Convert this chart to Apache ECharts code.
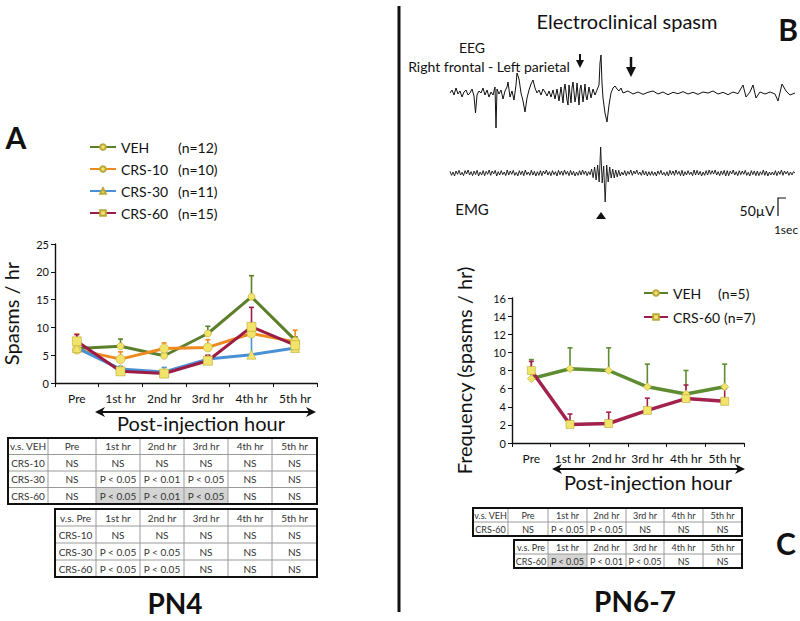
<!DOCTYPE html>
<html><head><meta charset="utf-8">
<script src="https://cdn.jsdelivr.net/npm/echarts@6/dist/echarts.min.js"></script>
<style>html,body{margin:0;padding:0;background:#fff}#c{width:800px;height:621px}</style>
</head><body><div id="c"></div>
<script>
// ---------- DATA ----------
const hours = ['Pre','1st hr','2nd hr','3rd hr','4th hr','5th hr'];
// Panel A (PN4)
const namesA = ['VEH','CRS-10','CRS-30','CRS-60'];
const nA = ['(n=12)','(n=10)','(n=11)','(n=15)'];
const vehA = [6.2,6.6,4.9,8.9,15.5,7.7];
const vehAErr = [0.8,1.3,0.5,1.3,3.8,0.6];
const crs10A = [6.0,4.3,6.2,6.4,8.9,7.4];
const crs10AErr = [2.8,1.3,1.0,1.4,0.4,2.1];
const crs30A = [6.3,2.5,2.0,4.3,5.1,6.3];
const crs30AErr = [0.5,0.5,0.8,0.6,4.2,0.4];
const crs60A = [7.5,2.1,1.7,4.0,10.1,6.8];
const crs60AErr = [1.2,0.6,0.6,1.0,3.5,1.3];
// Panel C (PN6-7)
const namesB = ['VEH','CRS-60'];
const nB = ['(n=5)','(n=7)'];
const vehB = [7.1,8.2,8.0,6.2,5.4,6.2];
const vehBErr = [2.1,2.3,2.5,2.5,2.6,2.5];
const crs60B = [8.0,2.05,2.15,3.6,4.9,4.6];
const crs60BErr = [1.0,1.15,1.25,1.35,1.5,1.4];
// Panel B traces: EEG [sec, µV], EMG samples (µV)
const eeg = [[0,0],[0.2,9],[0.4,-6],[0.6,15],[0.8,-3],[1.0,6],[1.2,-12],[1.4,3],[1.6,9],[1.8,-6],[2.0,0],[2.2,12],[2.4,-9],[2.55,-60],[2.7,-6],[2.9,6],[3.1,0],[3.3,15],[3.5,-6],[3.7,9],[3.9,-12],[4.1,3],[4.3,-6],[4.5,18],[4.6,-105],[4.7,12],[4.9,-3],[5.1,9],[5.3,-18],[5.5,6],[5.7,18],[5.8,33],[6.0,-12],[6.2,6],[6.4,-21],[6.6,24],[6.7,60],[6.9,42],[7.1,0],[7.3,-24],[7.5,-57],[7.7,-15],[7.9,9],[8.1,27],[8.3,39],[8.5,15],[8.7,0],[8.9,9],[9.1,-6],[9.3,12],[9.5,3],[9.7,-9],[9.9,6],[10.1,-12],[10.3,9],[10.5,-18],[10.7,12],[10.9,-24],[11.1,18],[11.3,-30],[11.4,9],[11.5,27],[11.7,-21],[11.8,-36],[11.9,24],[12.1,-30],[12.2,15],[12.3,33],[12.5,-27],[12.6,-9],[12.7,30],[12.9,-36],[13.0,12],[13.1,24],[13.3,-27],[13.5,27],[13.6,-9],[13.7,-21],[13.9,18],[14.1,-15],[14.3,12],[14.5,-6],[14.7,9],[14.9,24],[15.0,90],[15.1,114],[15.2,30],[15.3,-15],[15.5,-60],[15.7,-87],[15.9,-36],[16.1,0],[16.3,15],[16.5,21],[16.7,12],[16.9,6],[17.1,15],[17.3,0],[17.8,6],[18.3,-3],[18.8,3],[19.3,-4],[19.8,2],[20.3,6],[20.8,-3],[21.3,3],[21.8,-5],[22.3,2],[22.8,-2],[23.3,4],[23.8,-3],[24.3,2],[24.8,-4],[25.3,3],[25.8,0],[26.3,6],[26.8,-3],[27.3,2],[27.8,-5],[28.3,3],[28.8,-2],[29.3,24],[29.6,-12],[30.0,3],[30.3,24],[30.6,-15],[31.0,3],[31.5,-3],[32.0,3],[32.5,-3],[32.8,-24],[33.2,27],[33.6,6],[34.0,-6],[34.5,0]];
const emg = [5,-7,3,-9,6,-4,8,-6,2,-8, 7,-3,9,-6,4,-8,6,-5,8,-9, 3,-6,7,-8,5,-4,9,-7,6,-3, 8,-9,4,-6,7,-5,3,-8,9,-6,
  6,-4,8,-7,2,-9,7,-5,6,-8, 9,-5,3,-7,8,-6,5,-9,4,-7, 7,-8,6,-3,9,-6,4,-8,7,-5, 4,-9,8,-5,6,-7,9,-4,5,-8,
  8,-6,5,-9,3,-7,7,-6,9,-4, 6,-8,4,-5,
  12,-14,18,-21,24,-27,78,-30,21,-87,24,-27,18,-15,12,-15,9,-12,8,-9,
  3,-6,7,-8,5,-4,9,-7,6,-3, 9,-5,3,-7,8,-6,5,-9,4,-7, 5,-7,3,-9,6,-4,8,-6,2,-8, 4,-9,8,-5,6,-7,9,-4,5,-8,
  8,-9,4,-6,7,-5,3,-8,9,-6, 8,-6,5,-9,3,-7,7,-6,9,-4, 7,-3,9,-6,4,-8,6,-5,8,-9, 7,-8,6,-3,9,-6,4,-8,7,-5,
  6,-4,8,-7,2,-9,7,-5,6,-8, 6,-8,4,-5,9,-7,6,-9,3,-6, 3,-6,7,-8,5,-4,9,-7,6,-3, 5,-7,3,-6,4,0];
// Tables
const tA1 = [["v.s. VEH","Pre","1st hr","2nd hr","3rd hr","4th hr","5th hr"],
  ["CRS-10","NS","NS","NS","NS","NS","NS"],
  ["CRS-30","NS","P < 0.05","P < 0.01","P < 0.05","NS","NS"],
  ["CRS-60","NS","P < 0.05","P < 0.01","P < 0.05","NS","NS"]];
const tA2 = [["v.s. Pre","1st hr","2nd hr","3rd hr","4th hr","5th hr"],
  ["CRS-10","NS","NS","NS","NS","NS"],
  ["CRS-30","P < 0.05","P < 0.05","NS","NS","NS"],
  ["CRS-60","P < 0.05","P < 0.05","NS","NS","NS"]];
const tC1 = [["v.s. VEH","Pre","1st hr","2nd hr","3rd hr","4th hr","5th hr"],
  ["CRS-60","NS","P < 0.05","P < 0.05","NS","NS","NS"]];
const tC2 = [["v.s. Pre","1st hr","2nd hr","3rd hr","4th hr","5th hr"],
  ["CRS-60","P < 0.05","P < 0.01","P < 0.05","NS","NS"]];

// ---------- STYLE ----------
const F = 'Lato, "DejaVu Sans", sans-serif';
const YEL = '#f2e46a';
const colA = {'VEH':'#5b7f2b','CRS-10':'#ef8a1f','CRS-30':'#4a90d6','CRS-60':'#9b1c45'};
const symA = {'VEH':['circle',7],'CRS-10':['circle',9],'CRS-30':['triangle',9],'CRS-60':['rect',9]};
const colB = {'VEH':'#5e8c31','CRS-60':'#a1224c'};
const symB = {'VEH':['diamond',8],'CRS-60':['rect',8]};

function lineSeries(name, data, color, sym, xi, w){
  return {type:'line', name, data, xAxisIndex:xi, yAxisIndex:xi, z:3,
    symbol:sym[0], symbolSize:sym[1], showSymbol:true,
    lineStyle:{color, width:w}, itemStyle:{color:YEL, borderColor:'#b9a93a', borderWidth:0.6},
    emphasis:{disabled:true}, silent:true, animation:false};
}
function errSeries(means, errs, color, xi){
  return {type:'custom', xAxisIndex:xi, yAxisIndex:xi, z:2, silent:true, animation:false,
    data: means.map((m,i)=>[i, m, m+errs[i]]),
    renderItem:(p, api)=>{
      const a = api.coord([api.value(0), api.value(1)]);
      const b = api.coord([api.value(0), api.value(2)]);
      return {type:'group', children:[
        {type:'line', shape:{x1:a[0],y1:a[1],x2:b[0],y2:b[1]}, style:{stroke:color, lineWidth:1.6}},
        {type:'line', shape:{x1:b[0]-2.5,y1:b[1],x2:b[0]+2.5,y2:b[1]}, style:{stroke:color, lineWidth:1.6}}
      ]};
    }};
}
function catAxis(gi){
  return {type:'category', gridIndex:gi, data:hours, boundaryGap:true,
    axisLine:{lineStyle:{color:'#111', width:1.4}},
    axisTick:{show:true, length:4, interval:0, lineStyle:{color:'#111'}},
    axisLabel:{fontFamily:F, fontSize:12, color:'#111', margin:9, interval:0}};
}
function valAxis(gi, max, interval, name, gap){
  return {type:'value', gridIndex:gi, min:0, max, interval,
    name, nameLocation:'middle', nameGap:gap, nameTextStyle:{fontFamily:F, fontSize:20, color:'#111'},
    axisLine:{show:true, lineStyle:{color:'#111', width:1.4}},
    axisTick:{show:true, length:4, lineStyle:{color:'#111'}},
    splitLine:{show:false},
    axisLabel:{fontFamily:F, fontSize:11, color:'#111', margin:6}};
}

function table(cols, rows, cells, shaded, fs){
  const els = [];
  shaded.forEach(([r,c])=>els.push({type:'rect', shape:{x:cols[c], y:rows[r], width:cols[c+1]-cols[c], height:rows[r+1]-rows[r]}, style:{fill:'#d4d4d4'}}));
  for (let i=1;i<cols.length-1;i++) els.push({type:'line', shape:{x1:cols[i],y1:rows[0],x2:cols[i],y2:rows[rows.length-1]}, style:{stroke:'#9a9a9a', lineWidth:1}});
  for (let j=1;j<rows.length-1;j++) els.push({type:'line', shape:{x1:cols[0],y1:rows[j],x2:cols[cols.length-1],y2:rows[j]}, style:{stroke:'#9a9a9a', lineWidth:1}});
  els.push({type:'rect', shape:{x:cols[0], y:rows[0], width:cols[cols.length-1]-cols[0], height:rows[rows.length-1]-rows[0]}, style:{fill:'none', stroke:'#111', lineWidth:2}});
  cells.forEach((row,r)=>row.forEach((t,c)=>els.push({type:'text', x:(cols[c]+cols[c+1])/2, y:(rows[r]+rows[r+1])/2,
    style:{text:t, fill:'#333', font:fs+'px '+F, textAlign:'center', textVerticalAlign:'middle'}})));
  return els;
}
function txt(x,y,t,font,align){
  return {type:'text', x, y, style:{text:t, fill:'#111', font, textAlign:align||'center', textVerticalAlign:'middle'}};
}
function dblArrow(x1,x2,y){
  return [
    {type:'line', shape:{x1:x1+4,y1:y,x2:x2-4,y2:y}, style:{stroke:'#111', lineWidth:2}},
    {type:'polygon', shape:{points:[[x1,y],[x1+10,y-5],[x1+7,y],[x1+10,y+5]]}, style:{fill:'#111'}},
    {type:'polygon', shape:{points:[[x2,y],[x2-10,y-5],[x2-7,y],[x2-10,y+5]]}, style:{fill:'#111'}}
  ];
}
function downArrow(x,y1,y2,hw,hh,sw){
  return [
    {type:'line', shape:{x1:x,y1:y1,x2:x,y2:y2-hh+1}, style:{stroke:'#111', lineWidth:sw}},
    {type:'polygon', shape:{points:[[x-hw,y2-hh],[x+hw,y2-hh],[x,y2]]}, style:{fill:'#111'}}
  ];
}

const graphics = [].concat(
  [{type:'rect', shape:{x:397.5, y:6, width:3, height:606}, style:{fill:'#111'}}],
  [txt(16,137,'A','bold 30px '+F), txt(788,29,'B','bold 30px '+F), txt(786,543,'C','bold 30px '+F)],
  [txt(175,603,'PN4','bold 28px '+F), txt(635,601,'PN6-7','bold 28px '+F)],
  [txt(201,423,'Post-injection hour','20px '+F), txt(648,482,'Post-injection hour','20px '+F)],
  dblArrow(95,316,412), dblArrow(552,745,469),
  [txt(627,21,'Electroclinical spasm','20px '+F), txt(472,47,'EEG','14px '+F), txt(489,66,'Right frontal - Left parietal','14px '+F),
   txt(472,209,'EMG','15px '+F), txt(757,210,'50µV','14px '+F), txt(786,229,'1sec','12px '+F)],
  downArrow(580,54,68,4,8,2), downArrow(631,57,77,5,10,2.5),
  [{type:'polygon', shape:{points:[[596,219],[606,219],[601,212]]}, style:{fill:'#111'}},
   {type:'polyline', shape:{points:[[778,216],[778,198],[786,198]]}, style:{stroke:'#111', lineWidth:1.2, fill:'none'}}],
  table([8,48,96,140,184,228,272,317],[438,454.5,471,487.5,504], tA1, [[3,2],[3,3],[3,4]], 10),
  table([55,96,140,184,228,272,317],[509,526,543,560,577], tA2, [], 10),
  table([473,508,548,587,626,664,703,742],[508,522,536], tC1, [], 9),
  table([514,548,587,626,664,703,742],[540,554,568], tC2, [[1,1]], 9)
);

const option = {
  backgroundColor:'#fff', animation:false,
  grid:[
    {left:49, top:244, width:268, height:139},
    {left:512, top:298, width:232, height:145},
    {left:450, top:53, width:345, height:80},
    {left:450, top:143, width:345, height:60}
  ],
  xAxis:[catAxis(0), catAxis(1),
    {type:'value', gridIndex:2, min:0, max:34.5, show:false},
    {type:'value', gridIndex:3, min:0, max:emg.length-1, show:false}],
  yAxis:[valAxis(0,25,5,'Spasms / hr',34), valAxis(1,16,2,'Frequency (spasms / hr)',38),
    {type:'value', gridIndex:2, min:-120, max:120, show:false},
    {type:'value', gridIndex:3, min:-90, max:90, show:false}],
  legend:[
    {orient:'vertical', left:84, top:135, itemWidth:26, itemHeight:7, itemGap:8, selectedMode:false,
     data:namesA, formatter:n=>'{a|'+n+'}{b|'+nA[namesA.indexOf(n)]+'}',
     textStyle:{fontFamily:F, fontSize:14, color:'#111', rich:{a:{width:57, fontSize:14, fontFamily:F, lineHeight:14}, b:{fontSize:14, fontFamily:F, lineHeight:14}}}},
    {orient:'vertical', left:638, top:281, itemWidth:24, itemHeight:7, itemGap:10, selectedMode:false,
     data:namesB, formatter:n=>{const i=namesB.indexOf(n); return '{a'+i+'|'+n+'}{b|'+nB[i]+'}';},
     textStyle:{fontFamily:F, fontSize:14, color:'#111', rich:{a0:{width:45, fontSize:14, fontFamily:F, lineHeight:14}, a1:{width:51, fontSize:14, fontFamily:F, lineHeight:14}, b:{fontSize:14, fontFamily:F, lineHeight:14}}}}
  ],
  series:[
    errSeries(vehA, vehAErr, colA['VEH'], 0),
    errSeries(crs10A, crs10AErr, colA['CRS-10'], 0),
    errSeries(crs30A, crs30AErr, colA['CRS-30'], 0),
    errSeries(crs60A, crs60AErr, colA['CRS-60'], 0),
    lineSeries('VEH', vehA, colA['VEH'], symA['VEH'], 0, 3),
    lineSeries('CRS-10', crs10A, colA['CRS-10'], symA['CRS-10'], 0, 3),
    lineSeries('CRS-30', crs30A, colA['CRS-30'], symA['CRS-30'], 0, 3),
    lineSeries('CRS-60', crs60A, colA['CRS-60'], symA['CRS-60'], 0, 3),
    errSeries(vehB, vehBErr, colB['VEH'], 1),
    errSeries(crs60B, crs60BErr, colB['CRS-60'], 1),
    lineSeries('VEH', vehB, colB['VEH'], symB['VEH'], 1, 3.5),
    lineSeries('CRS-60', crs60B, colB['CRS-60'], symB['CRS-60'], 1, 3.5),
    {type:'line', xAxisIndex:2, yAxisIndex:2, data:eeg, symbol:'none', silent:true, lineStyle:{color:'#111', width:1}},
    {type:'line', xAxisIndex:3, yAxisIndex:3, data:emg.map((v,i)=>[i,v]), symbol:'none', silent:true, lineStyle:{color:'#111', width:0.9}}
  ],
  graphic:{elements:graphics}
};
const chart = echarts.init(document.getElementById('c'), null, {renderer:'svg'});
chart.setOption(option);
</script></body></html>
